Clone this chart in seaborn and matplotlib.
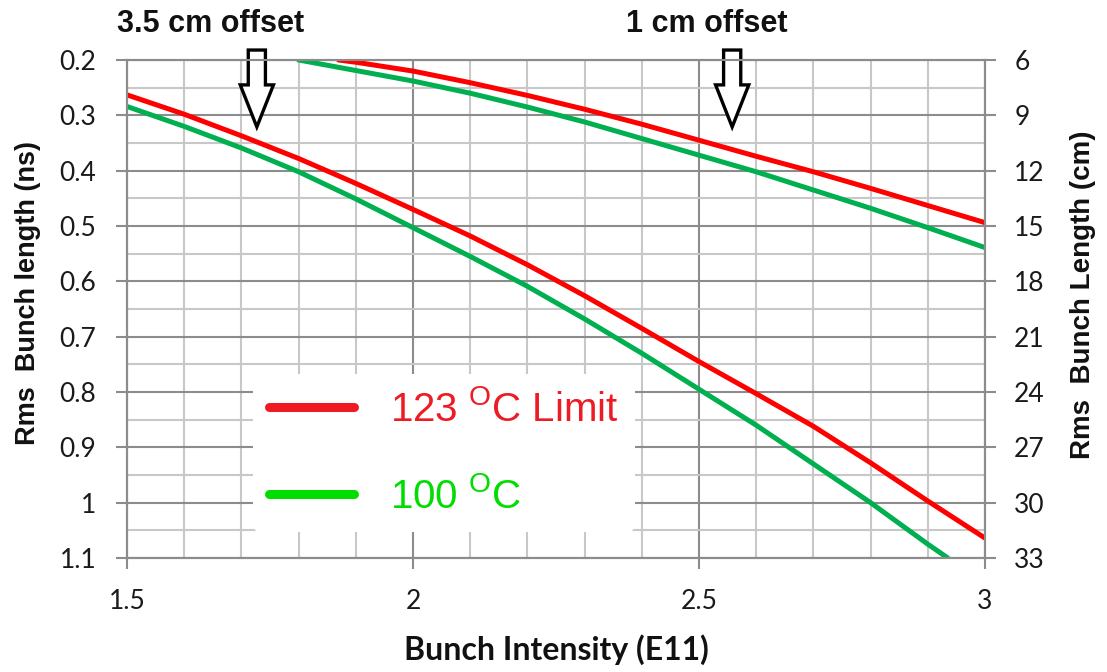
import numpy as np
import pandas as pd
import matplotlib
matplotlib.use("Agg")
import matplotlib.pyplot as plt
import seaborn as sns
from matplotlib.lines import Line2D
from matplotlib.patches import FancyArrow
from matplotlib.ticker import MultipleLocator

sns.set_theme(style="white")
plt.rcParams["font.family"] = ["Liberation Sans", "DejaVu Sans"]

# ---------------- data ----------------
series_names = ["123 $^{\\mathregular{O}}$C Limit", "100 $^{\\mathregular{O}}$C"]

# lower branch (3.5 cm offset)
red_low_x = [1.5, 1.6, 1.7, 1.8, 1.9, 2.0, 2.1, 2.2, 2.3, 2.4, 2.5, 2.6, 2.7, 2.8, 2.9, 3.0]
red_low_y = [0.263, 0.298, 0.337, 0.378, 0.423, 0.470, 0.518, 0.570, 0.626, 0.685, 0.745, 0.803,
             0.862, 0.928, 0.997, 1.064]
green_low_x = [1.5, 1.6, 1.7, 1.8, 1.9, 2.0, 2.1, 2.2, 2.3, 2.4, 2.5, 2.6, 2.7, 2.8, 2.9, 2.935]
green_low_y = [0.284, 0.320, 0.359, 0.402, 0.451, 0.503, 0.555, 0.609, 0.668, 0.730, 0.795, 0.860,
               0.930, 1.000, 1.075, 1.100]

# upper branch (1 cm offset)
red_up_x = [1.87, 1.9, 2.0, 2.1, 2.2, 2.3, 2.4, 2.5, 2.6, 2.7, 2.8, 2.9, 3.0]
red_up_y = [0.200, 0.204, 0.220, 0.241, 0.264, 0.289, 0.316, 0.345, 0.374, 0.402, 0.432, 0.463, 0.494]
green_up_x = [1.8, 1.9, 2.0, 2.1, 2.2, 2.3, 2.4, 2.5, 2.6, 2.7, 2.8, 2.9, 3.0]
green_up_y = [0.200, 0.219, 0.238, 0.260, 0.285, 0.312, 0.342, 0.372, 0.402, 0.435, 0.468, 0.503, 0.539]

x_ticks = [1.5, 2.0, 2.5, 3.0]
x_ticklabels = ["1.5", "2", "2.5", "3"]
y_ticks = [0.2, 0.3, 0.4, 0.5, 0.6, 0.7, 0.8, 0.9, 1.0, 1.1]
y_ticklabels = ["0.2", "0.3", "0.4", "0.5", "0.6", "0.7", "0.8", "0.9", "1", "1.1"]
cm_ticks = [6, 9, 12, 15, 18, 21, 24, 27, 30, 33]
cm_ticklabels = ["6", "9", "12", "15", "18", "21", "24", "27", "30", "33"]

annotations = ["3.5 cm offset", "1 cm offset"]
arrow_x = [1.727, 2.558]

# ---------------- build long table ----------------
parts = [
    (series_names[0], "low", red_low_x, red_low_y),
    (series_names[1], "low", green_low_x, green_low_y),
    (series_names[0], "up", red_up_x, red_up_y),
    (series_names[1], "up", green_up_x, green_up_y),
]
df = pd.concat(
    [pd.DataFrame({"x": xs, "y": ys, "series": s, "unit": s + "|" + b}) for s, b, xs, ys in parts],
    ignore_index=True,
)

line_colors = {series_names[0]: "#FF0000", series_names[1]: "#00B050"}
legend_colors = ["#ED1C24", "#00DD00"]
grid_major = "#8c8c8c"
grid_minor = "#c8c8c8"

fig = plt.figure(figsize=(11.07, 6.72), dpi=100)
ax = fig.add_axes([127 / 1107, 1 - 558 / 672, 858 / 1107, 498 / 672])

sns.lineplot(data=df, x="x", y="y", hue="series", units="unit", estimator=None, sort=False,
             palette=line_colors, linewidth=3.6, legend=False, ax=ax, zorder=3)

ax.set_xlim(1.5, 3.0)
ax.set_ylim(1.1, 0.2)

ax.set_xticks(x_ticks)
ax.set_xticklabels(x_ticklabels)
ax.set_yticks(y_ticks)
ax.set_yticklabels(y_ticklabels)
ax.xaxis.set_minor_locator(MultipleLocator(0.1))
ax.yaxis.set_minor_locator(MultipleLocator(0.05))

ax.grid(which="major", color=grid_major, linewidth=1.5, zorder=0)
ax.grid(which="minor", color=grid_minor, linewidth=1.5, zorder=0)
ax.set_axisbelow(True)

ax.tick_params(axis="both", which="minor", length=0)
ax.tick_params(axis="y", which="major", left=True, direction="out", length=8, width=1.5,
               color=grid_major, pad=14, labelsize=19, labelcolor="#1a1a1a")
ax.tick_params(axis="x", which="major", bottom=True, direction="out", length=8, width=1.5,
               color=grid_major, pad=14, labelsize=19, labelcolor="#1a1a1a")
for lbl in ax.get_xticklabels() + ax.get_yticklabels():
    lbl.set_fontfamily(["Lato", "DejaVu Sans"])

for sp in ax.spines.values():
    sp.set_color(grid_major)
    sp.set_linewidth(1.5)

ax.set_xlabel("Bunch Intensity (E11)", fontsize=23, fontweight="bold",
              fontfamily=["Lato", "DejaVu Sans"], color="#111111")
ax.xaxis.label.set_va("center")
ax.xaxis.set_label_coords(0.5, (558 - 650) / 498)

ax.set_ylabel("Rms  Bunch length (ns)", fontsize=19.5, fontweight="bold", color="#111111")
ax.yaxis.label.set_va("center")
ax.yaxis.set_label_coords((28 - 127) / 858, (558 - 293) / 498)

# right axis in cm
ax2 = ax.twinx()
ax2.set_ylim(33, 6)
ax2.set_yticks(cm_ticks)
ax2.set_yticklabels(cm_ticklabels)
ax2.grid(False)
ax2.tick_params(axis="y", which="major", right=True, direction="out", length=8, width=1.5,
                color=grid_major, pad=13, labelsize=19, labelcolor="#1a1a1a")
for lbl in ax2.get_yticklabels():
    lbl.set_fontfamily(["Lato", "DejaVu Sans"])
for sp in ax2.spines.values():
    sp.set_color(grid_major)
    sp.set_linewidth(1.5)
ax2.set_ylabel("Rms  Bunch Length (cm)", fontsize=20, fontweight="bold", color="#111111",
               rotation=90)
ax2.yaxis.label.set_va("center")
ax2.yaxis.set_label_coords((1083 - 127) / 858, (558 - 295) / 498)

# legend
handles = [Line2D([], [], color=c, lw=6.5, solid_capstyle="round") for c in legend_colors]
leg = ax2.legend(handles, series_names, loc="lower left", bbox_to_anchor=(0.147, 0.052),
                 frameon=True, facecolor="white", edgecolor="none", framealpha=1,
                 prop={"size": 29}, handlelength=2.1, handletextpad=0.9,
                 labelspacing=1.2, borderpad=0.4, borderaxespad=0)
for txt, c in zip(leg.get_texts(), legend_colors):
    txt.set_color(c)

# hollow arrows under the offset notes
for xa in arrow_x:
    arr = FancyArrow(xa, 0.182, 0, 0.139, width=0.030, head_width=0.058, head_length=0.076,
                     length_includes_head=True, fc="white", ec="black", lw=2.4,
                     clip_on=False, zorder=6)
    ax.add_patch(arr)

fig.text(211 / 1107, 1 - 24 / 672, annotations[0], ha="center", va="center",
         fontsize=22, fontweight="bold", color="#111111")
fig.text(707 / 1107, 1 - 24 / 672, annotations[1], ha="center", va="center",
         fontsize=22, fontweight="bold", color="#111111")

fig.savefig("out.png", dpi=100, facecolor="white")
